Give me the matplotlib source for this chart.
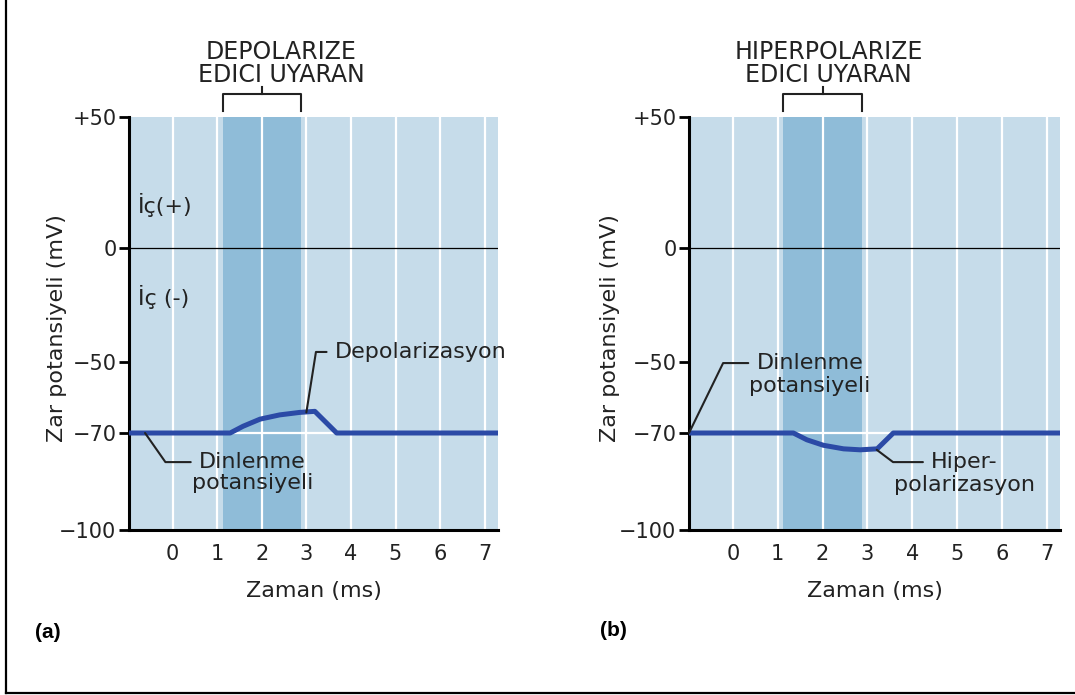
import numpy as np
import matplotlib
matplotlib.use("Agg")
import matplotlib.pyplot as plt
from matplotlib.lines import Line2D

plt.rcParams['font.family'] = ['DejaVu Sans']

# ---- data ----
yticks = [50, 0, -50, -70, -100]
ytick_labels = ["+50", "0", "\u221250", "\u221270", "\u2212100"]
xticks = [0, 1, 2, 3, 4, 5, 6, 7]
stim = (1.12, 2.88)          # stimulus window (ms)
rest = -70                   # resting potential (mV)

t_depol = [-1, 1.29, 1.58, 1.96, 2.4, 2.85, 3.19, 3.68, 7.4]
v_depol = [-70, -70, -68.1, -66.1, -64.9, -64.2, -63.9, -70, -70]

t_hyper = [-1, 1.35, 1.65, 2.02, 2.47, 2.84, 3.22, 3.58, 7.4]
v_hyper = [-70, -70, -72.1, -73.8, -74.9, -75.2, -74.9, -70, -70]

# schematic (non-linear) voltage axis: mV -> relative height
mv_pts = [-100, -70, -50, 0, 50]
h_pts = [0, 97, 168, 282, 413]


def fwd(v):
    return np.interp(v, mv_pts, h_pts)


def inv(h):
    return np.interp(h, h_pts, mv_pts)


LIGHT = "#c6dcea"
DARK = "#8fbcd8"
BLUE = "#2b4aa6"
TXT = "#222222"

fig = plt.figure(figsize=(10.75, 6.95), dpi=100)
ax1 = fig.add_axes([129 / 1075, 1 - 530 / 695, 369 / 1075, 413 / 695])
ax2 = fig.add_axes([689 / 1075, 1 - 530 / 695, 371 / 1075, 413 / 695])


def setup(ax, title, title_x, ylab_x):
    ax.set_facecolor(LIGHT)
    ax.set_yscale('function', functions=(fwd, inv))
    ax.set_xlim(-0.98, 7.3)
    ax.set_ylim(-100, 50)
    ax.axvspan(stim[0], stim[1], color=DARK, lw=0, zorder=0.5)
    for x in xticks:
        ax.axvline(x, color="white", lw=1.6, zorder=1)
    ax.axhline(rest, color="white", lw=1.6, zorder=1)
    ax.axhline(0, color="black", lw=0.9, zorder=2)

    for s in ["top", "right"]:
        ax.spines[s].set_visible(False)
    for s in ["left", "bottom"]:
        ax.spines[s].set_linewidth(2.2)
    ax.set_yticks(yticks)
    ax.set_yticklabels(ytick_labels)
    ax.yaxis.set_minor_locator(matplotlib.ticker.NullLocator())
    ax.tick_params(axis="y", length=7, width=2, pad=2, labelsize=15, labelcolor=TXT)
    ax.set_xticks(xticks)
    ax.tick_params(axis="x", length=0, pad=10, labelsize=15, labelcolor=TXT)
    ax.set_xlabel("Zaman (ms)", fontsize=16, color=TXT, labelpad=12)
    ax.set_ylabel("Zar potansiyeli (mV)", fontsize=16, color=TXT)
    ax.yaxis.set_label_coords(ylab_x, 0.49)

    # stimulus bracket + title
    tr = ax.get_xaxis_transform()
    mid = (stim[0] + stim[1]) / 2
    ax.plot([stim[0], stim[0], stim[1], stim[1]], [1.015, 1.056, 1.056, 1.015],
            transform=tr, color=TXT, lw=1.5, clip_on=False)
    ax.plot([mid, mid], [1.056, 1.073], transform=tr, color=TXT, lw=1.5, clip_on=False)
    ax.text(title_x, 1.13, title, transform=tr, ha="center", va="center",
            fontsize=17, color=TXT, linespacing=0.95)


setup(ax1, "DEPOLARIZE\nEDICI UYARAN", 2.44, -0.168)
setup(ax2, "HIPERPOLARIZE\nEDICI UYARAN", 2.13, -0.186)

ax1.plot(t_depol, v_depol, color=BLUE, lw=3.6, zorder=3, solid_capstyle="butt")
ax2.plot(t_hyper, v_hyper, color=BLUE, lw=3.6, zorder=3, solid_capstyle="butt")

lead = dict(arrowstyle="-", color=TXT, lw=1.5, relpos=(0, 0.5), shrinkA=4, shrinkB=0)

# panel a labels
ax1.text(-0.78, 16.5, "\u0130\u00e7(+)", fontsize=16, color=TXT, va="center")
ax1.text(-0.78, -21.4, "\u0130\u00e7 (-)", fontsize=16, color=TXT, va="center")
ax1.annotate("Depolarizasyon", xy=(3.0, -64.2), xytext=(3.64, -45.6),
             ha="left", va="center", fontsize=16, color=TXT, annotation_clip=False,
             arrowprops=dict(lead, connectionstyle="angle,angleA=0,angleB=81,rad=0"))
ax1.annotate("Dinlenme", xy=(-0.62, -70), xytext=(1.79, -79),
             ha="center", va="center", fontsize=16, color=TXT,
             arrowprops=dict(lead, connectionstyle="angle,angleA=0,angleB=-55,rad=0"))
ax1.text(1.79, -85.6, "potansiyeli", ha="center", va="center", fontsize=16, color=TXT)

# panel b labels
ax2.annotate("Dinlenme", xy=(-0.98, -70), xytext=(1.72, -50.3),
             ha="center", va="center", fontsize=16, color=TXT, annotation_clip=False,
             arrowprops=dict(lead, connectionstyle="angle,angleA=0,angleB=64,rad=0"))
ax2.text(1.72, -56.8, "potansiyeli", ha="center", va="center", fontsize=16, color=TXT)
ax2.annotate("Hiper-", xy=(3.21, -75.2), xytext=(5.17, -79),
             ha="center", va="center", fontsize=16, color=TXT,
             arrowprops=dict(lead, connectionstyle="angle,angleA=0,angleB=-37,rad=0"))
ax2.text(5.17, -86, "polarizasyon", ha="center", va="center", fontsize=16, color=TXT)

fig.text(35 / 1075, 1 - 632 / 695, "(a)", fontsize=15, fontweight="bold",
         family="Liberation Sans", va="center")
fig.text(600 / 1075, 1 - 631 / 695, "(b)", fontsize=15, fontweight="bold",
         family="Liberation Sans", va="center")

# outer frame (left and bottom edges)
fig.add_artist(Line2D([6 / 1075, 6 / 1075], [1, 2 / 695], color="black", lw=1.6))
fig.add_artist(Line2D([6 / 1075, 1], [2 / 695, 2 / 695], color="black", lw=1.6))

fig.savefig("out.png", dpi=100)
